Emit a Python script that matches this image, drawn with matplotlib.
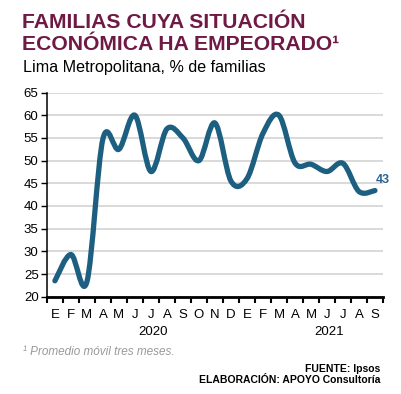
import matplotlib.pyplot as plt
import numpy as np
from matplotlib.path import Path
from matplotlib.patches import PathPatch

plt.rcParams['font.family'] = ['Liberation Sans', 'DejaVu Sans']

months = ['E', 'F', 'M', 'A', 'M', 'J', 'J', 'A', 'S', 'O', 'N', 'D',
          'E', 'F', 'M', 'A', 'M', 'J', 'J', 'A', 'S']
values = [23.5, 29.3, 23.3, 54.8, 52.5, 60.0, 47.6, 57.0, 55.0, 50.0, 58.3, 45.5,
          46.0, 56.0, 60.0, 49.5, 49.2, 47.6, 49.4, 43.2, 43.4]
years = ['2020', '2021']
year_pos = [6.125, 17.125]
last_label = '43'

line_color = '#1d5f80'
title_color = '#6e1a45'

fig = plt.figure(figsize=(4.01, 3.94), dpi=100)
ax = fig.add_axes([0.117, 0.247, 0.838, 0.518])

x = np.arange(len(values))
y = np.array(values)

# smooth line like the spreadsheet one: catmull-rom as bezier segments
verts = [(x[0], y[0])]
codes = [Path.MOVETO]
n = len(x)
for i in range(n - 1):
    p0 = np.array([x[max(i - 1, 0)], y[max(i - 1, 0)]])
    p1 = np.array([x[i], y[i]])
    p2 = np.array([x[i + 1], y[i + 1]])
    p3 = np.array([x[min(i + 2, n - 1)], y[min(i + 2, n - 1)]])
    c1 = p1 + (p2 - p0) / 6
    c2 = p2 - (p3 - p1) / 6
    verts += [tuple(c1), tuple(c2), tuple(p2)]
    codes += [Path.CURVE4] * 3
ax.add_patch(PathPatch(Path(verts, codes), fill=False, edgecolor=line_color,
                       lw=3.8, capstyle='round', joinstyle='round', zorder=3))

ax.set_xlim(-0.5, n - 0.5)
ax.set_ylim(20, 65)
ax.set_yticks(range(20, 66, 5))
ax.yaxis.grid(True, color='#d0d0d0', lw=1.1)
ax.set_axisbelow(True)

ax.set_xticks(np.arange(-0.5, n, 1))
ax.set_xticklabels([])
ax.set_xticks(x, minor=True)
ax.set_xticklabels(months, minor=True, fontsize=9.5)
ax.tick_params(axis='x', which='major', length=4, width=1.5, direction='out')
ax.tick_params(axis='x', which='minor', length=0, pad=9)
ax.tick_params(axis='y', length=4, width=1, labelsize=9.5, pad=2)

for s in ['top', 'right']:
    ax.spines[s].set_visible(False)
ax.spines['left'].set_linewidth(1.1)
ax.spines['bottom'].set_linewidth(2)

for yr, p in zip(years, year_pos):
    ax.text(p, -0.175, yr, transform=ax.get_xaxis_transform(), ha='center',
            va='center', fontsize=9.5)

ax.annotate(last_label, (x[-1], y[-1]), xytext=(6, 3.5), textcoords='offset points',
            ha='center', va='bottom', fontsize=9, fontweight='bold',
            color='#2a6394')

fig.text(0.055, 0.93, 'FAMILIAS CUYA SITUACIÓN', fontsize=15.2, fontweight='bold',
         color=title_color, va='baseline')
fig.text(0.055, 0.873, 'ECONÓMICA HA EMPEORADO¹', fontsize=15.2, fontweight='bold',
         color=title_color, va='baseline')
fig.text(0.057, 0.818, 'Lima Metropolitana, % de familias', fontsize=11.6,
         va='baseline')
fig.text(0.057, 0.107, '¹ Promedio móvil tres meses.', fontsize=8.5, style='italic',
         color='#9a9a9a', va='center')
fig.text(0.948, 0.063, 'FUENTE: Ipsos', fontsize=7.5, fontweight='bold',
         ha='right', va='center')
fig.text(0.948, 0.035, 'ELABORACIÓN: APOYO Consultoría', fontsize=7.5,
         fontweight='bold', ha='right', va='center')

fig.savefig('out.png', dpi=100)
